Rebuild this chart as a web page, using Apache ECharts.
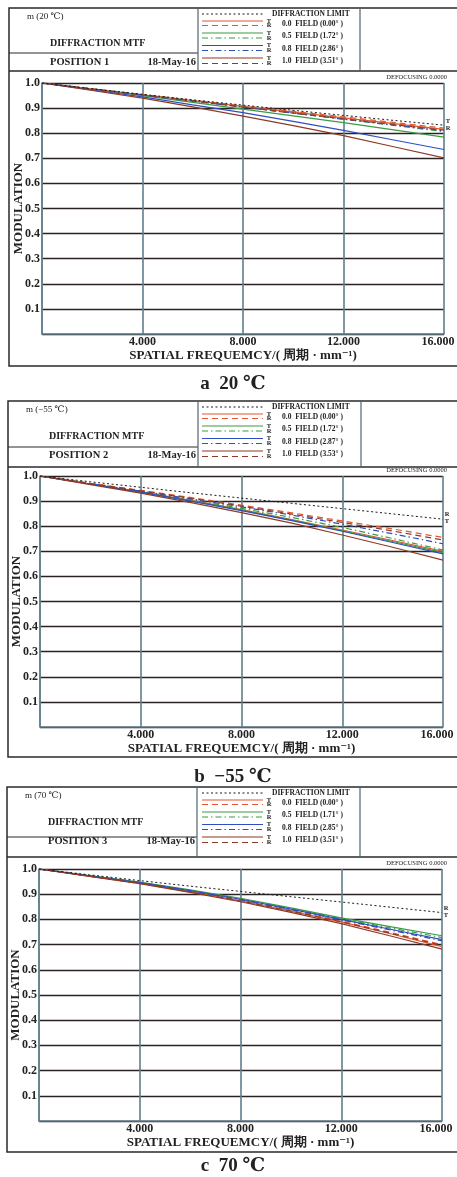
<!DOCTYPE html>
<html><head><meta charset="utf-8">
<script src="https://cdn.jsdelivr.net/npm/echarts@6/dist/echarts.min.js"></script>
<style>html,body{margin:0;padding:0;background:#fff}#c{width:457px;height:1177px}</style>
</head><body><div id="c"></div><script>
// ---------- DATA ----------
const freq = [0, 2, 4, 6, 8, 10, 12, 14, 16];
const yTickLabels = ['0.1','0.2','0.3','0.4','0.5','0.6','0.7','0.8','0.9','1.0'];
const xTickLabels = ['4.000','8.000','12.000','16.000'];

// a: 20 ℃
const t20_diff = [1, 0.977, 0.955, 0.933, 0.912, 0.891, 0.871, 0.851, 0.832];
const t20_f00T = [1, 0.976, 0.953, 0.930, 0.907, 0.884, 0.861, 0.838, 0.815];
const t20_f00R = [1, 0.977, 0.954, 0.931, 0.909, 0.887, 0.865, 0.843, 0.820];
const t20_f05T = [1, 0.975, 0.950, 0.923, 0.896, 0.869, 0.842, 0.813, 0.784];
const t20_f05R = [1, 0.976, 0.953, 0.929, 0.905, 0.881, 0.856, 0.831, 0.806];
const t20_f08T = [1, 0.972, 0.945, 0.913, 0.882, 0.847, 0.811, 0.773, 0.735];
const t20_f08R = [1, 0.976, 0.952, 0.928, 0.904, 0.880, 0.856, 0.833, 0.810];
const t20_f10T = [1, 0.970, 0.940, 0.905, 0.868, 0.830, 0.790, 0.746, 0.702];
const t20_f10R = [1, 0.976, 0.952, 0.928, 0.904, 0.880, 0.857, 0.834, 0.812];

// b: -55 ℃
const tm55_diff = [1, 0.977, 0.955, 0.933, 0.912, 0.891, 0.870, 0.849, 0.828];
const tm55_f00T = [1, 0.968, 0.937, 0.903, 0.866, 0.826, 0.785, 0.743, 0.700];
const tm55_f00R = [1, 0.971, 0.943, 0.914, 0.884, 0.853, 0.821, 0.789, 0.755];
const tm55_f05T = [1, 0.968, 0.936, 0.901, 0.864, 0.824, 0.782, 0.739, 0.695];
const tm55_f05R = [1, 0.969, 0.938, 0.905, 0.871, 0.835, 0.795, 0.751, 0.705];
const tm55_f08T = [1, 0.968, 0.936, 0.900, 0.862, 0.822, 0.780, 0.735, 0.690];
const tm55_f08R = [1, 0.970, 0.940, 0.909, 0.877, 0.844, 0.808, 0.770, 0.730];
const tm55_f10T = [1, 0.966, 0.932, 0.894, 0.854, 0.812, 0.765, 0.716, 0.665];
const tm55_f10R = [1, 0.970, 0.941, 0.911, 0.880, 0.848, 0.815, 0.781, 0.745];

// c: 70 ℃
const t70_diff = [1, 0.977, 0.954, 0.932, 0.911, 0.890, 0.869, 0.848, 0.827];
const t70_f00T = [1, 0.972, 0.944, 0.910, 0.874, 0.833, 0.790, 0.742, 0.692];
const t70_f00R = [1, 0.972, 0.944, 0.910, 0.875, 0.835, 0.793, 0.747, 0.700];
const t70_f05T = [1, 0.974, 0.948, 0.917, 0.884, 0.846, 0.806, 0.770, 0.735];
const t70_f05R = [1, 0.974, 0.947, 0.915, 0.881, 0.843, 0.803, 0.765, 0.728];
const t70_f08T = [1, 0.973, 0.946, 0.914, 0.880, 0.841, 0.800, 0.760, 0.720];
const t70_f08R = [1, 0.973, 0.946, 0.913, 0.878, 0.839, 0.798, 0.757, 0.715];
const t70_f10T = [1, 0.971, 0.942, 0.907, 0.870, 0.828, 0.783, 0.733, 0.682];
const t70_f10R = [1, 0.972, 0.943, 0.909, 0.873, 0.833, 0.790, 0.744, 0.697];

const headerTitles = ['m (20 ℃)', 'm (−55 ℃)', 'm (70 ℃)'];
const positions = ['POSITION 1', 'POSITION 2', 'POSITION 3'];
const dates = ['18-May-16', '18-May-16', '18-May-16'];
const fieldNames = ['0.0', '0.5', '0.8', '1.0'];
const angles20 = ['0.00', '1.72', '2.86', '3.51'];
const anglesM55 = ['0.00', '1.72', '2.87', '3.53'];
const angles70 = ['0.00', '1.71', '2.85', '3.51'];
const captions = ['a  20 ℃', 'b  −55 ℃', 'c  70 ℃'];
const endLetters = [['T', 'R'], ['R', 'T'], ['R', 'T']];

// ---------- BUILD ----------
const panelData = [
  [t20_diff, t20_f00T, t20_f00R, t20_f05T, t20_f05R, t20_f08T, t20_f08R, t20_f10T, t20_f10R],
  [tm55_diff, tm55_f00T, tm55_f00R, tm55_f05T, tm55_f05R, tm55_f08T, tm55_f08R, tm55_f10T, tm55_f10R],
  [t70_diff, t70_f00T, t70_f00R, t70_f05T, t70_f05R, t70_f08T, t70_f08R, t70_f10T, t70_f10R]
];
const panelAngles = [angles20, anglesM55, angles70];

const curveStyles = [
  {color: '#1a1a1a', type: [2, 2.5], width: 1},
  {color: '#e4572e', type: 'solid', width: 1.2},
  {color: '#e4572e', type: [6, 4], width: 1.2},
  {color: '#3c9a45', type: 'solid', width: 1.2},
  {color: '#3c9a45', type: [6, 3, 1.5, 3], width: 1.2},
  {color: '#2f4fbf', type: 'solid', width: 1.2},
  {color: '#2f4fbf', type: [6, 3, 1.5, 3], width: 1.2},
  {color: '#8e3b26', type: 'solid', width: 1.2},
  {color: '#8e3b26', type: [6, 4], width: 1.2}
];

const layout = [
  {bx: 9, btop: 8, binner: 53, bhead: 71, bbot: 366, gl: 42, gt: 83, gw: 402, gh: 251, cap: 384, div1: 198, div2: 360},
  {bx: 8, btop: 401, binner: 447, bhead: 467, bbot: 757, gl: 40, gt: 476, gw: 403, gh: 251, cap: 777, div1: 198, div2: 361},
  {bx: 7, btop: 787, binner: 837, bhead: 857, bbot: 1152, gl: 39, gt: 869, gw: 403, gh: 252, cap: 1166, div1: 197, div2: 360}
];

const SERIF = '"Liberation Serif", "DejaVu Serif", serif';
const grids = [], xAxes = [], yAxes = [], series = [], graphics = [];

layout.forEach((L, p) => {
  grids.push({left: L.gl, top: L.gt, width: L.gw, height: L.gh, containLabel: false, outerBoundsMode: 'none'});
  xAxes.push({
    type: 'value', gridIndex: p, min: 0, max: 16, interval: 4,
    axisLine: {show: true, lineStyle: {color: '#5f7f8c', width: 1.5}},
    axisTick: {show: false},
    splitLine: {show: true, lineStyle: {color: '#5f7f8c', width: 1.6}},
    axisLabel: {
      margin: 2, color: '#222', fontFamily: SERIF, fontWeight: 'bold', fontSize: 12,
      formatter: v => {
        const i = [4, 8, 12, 16].indexOf(v);
        if (i < 0) return '';
        return v === 16 ? '{m|' + xTickLabels[i] + '}' : xTickLabels[i];
      },
      rich: {m: {fontFamily: SERIF, fontWeight: 'bold', fontSize: 12, color: '#222', padding: [0, 12, 0, 0]}}
    },
    name: 'SPATIAL FREQUEMCY/( 周期 · mm⁻¹)', nameLocation: 'middle', nameGap: 15, nameMoveOverlap: false,
    nameTextStyle: {fontFamily: SERIF, fontWeight: 'bold', fontSize: 13, color: '#222'}
  });
  yAxes.push({
    type: 'value', gridIndex: p, min: 0, max: 1, interval: 0.1,
    axisLine: {show: true, lineStyle: {color: '#5f7f8c', width: 1.5}},
    axisTick: {show: false},
    splitLine: {show: true, lineStyle: {color: '#2a2222', width: 1.4}},
    axisLabel: {
      margin: 2, color: '#222', fontFamily: SERIF, fontWeight: 'bold', fontSize: 12,
      formatter: v => { const i = Math.round(v * 10) - 1; return i >= 0 ? yTickLabels[i] : ''; }
    },
    name: 'MODULATION', nameLocation: 'middle', nameGap: 17, nameRotate: 90, nameMoveOverlap: false,
    nameTextStyle: {fontFamily: SERIF, fontWeight: 'bold', fontSize: 13, color: '#222'}
  });
  panelData[p].forEach((vals, k) => {
    const st = curveStyles[k];
    series.push({
      type: 'line', xAxisIndex: p, yAxisIndex: p, symbol: 'none', silent: true,
      data: freq.map((f, i) => [f, vals[i]]),
      lineStyle: {color: st.color, type: st.type, width: st.width},
      z: k === 0 ? 3 : 2
    });
  });

  // Outer box + header
  const bw = 470;
  graphics.push({type: 'rect', shape: {x: L.bx, y: L.btop, width: bw, height: L.bbot - L.btop},
    style: {fill: 'none', stroke: '#2a2a2a', lineWidth: 1.5}, silent: true});
  graphics.push({type: 'line', shape: {x1: L.bx, y1: L.bhead, x2: 457, y2: L.bhead},
    style: {stroke: '#2a2a2a', lineWidth: 1.5}, silent: true});
  graphics.push({type: 'line', shape: {x1: L.bx, y1: L.binner, x2: L.div1, y2: L.binner},
    style: {stroke: '#2a2a2a', lineWidth: 1.2}, silent: true});
  graphics.push({type: 'line', shape: {x1: L.div1, y1: L.btop, x2: L.div1, y2: L.bhead},
    style: {stroke: '#4d6470', lineWidth: 1.2}, silent: true});
  graphics.push({type: 'line', shape: {x1: L.div2, y1: L.btop, x2: L.div2, y2: L.bhead},
    style: {stroke: '#4d6470', lineWidth: 1.2}, silent: true});
  const txt = (x, y, text, font, align, extra) => graphics.push(Object.assign({type: 'text', silent: true,
    style: {x, y, text, font, fill: '#222', textAlign: align || 'left', textVerticalAlign: 'middle'}}, extra || {}));
  txt(L.bx + 18, L.btop + 9, headerTitles[p], '9px ' + SERIF);
  txt(L.bx + 41, L.btop + 35, 'DIFFRACTION MTF', 'bold 10px ' + SERIF);
  txt(L.bx + 41, L.btop + 54, positions[p], 'bold 10.5px ' + SERIF);
  txt(L.div1 - 2, L.btop + 54, dates[p], 'bold 10.5px ' + SERIF, 'right');

  // legend swatches
  const lineOffs = [6, 13, 17.5, 25, 30, 37.5, 42.5, 50, 55.5];
  lineOffs.forEach((off, k) => {
    const st = curveStyles[k];
    graphics.push({type: 'line', silent: true, shape: {x1: 202, y1: L.btop + off, x2: 263, y2: L.btop + off},
      style: {stroke: st.color, lineWidth: 1.2, lineDash: st.type === 'solid' ? null : st.type}});
    if (k > 0) txt(269, L.btop + off, k % 2 === 1 ? 'T' : 'R', 'bold 6.5px ' + SERIF, 'center');
  });
  txt(272, L.btop + 6, 'DIFFRACTION LIMIT', 'bold 7.5px ' + SERIF);
  const textOffs = [16, 28, 41, 53];
  fieldNames.forEach((fn, i) => {
    txt(282, L.btop + textOffs[i], fn + '  FIELD (' + panelAngles[p][i] + '° )', 'bold 7.5px ' + SERIF);
  });
  txt(447, L.gt - 6, 'DEFOCUSING 0.0000', '6.5px ' + SERIF, 'right');
  // end letters
  txt(L.gl + L.gw + 4, L.gt + L.gh * (1 - 0.83) - 4, endLetters[p][0], 'bold 6.5px ' + SERIF, 'center');
  txt(L.gl + L.gw + 4, L.gt + L.gh * (1 - 0.83) + 3, endLetters[p][1], 'bold 6.5px ' + SERIF, 'center');
  // caption
  txt(233, L.cap, captions[p], 'bold 19px ' + SERIF, 'center');
});

const chart = echarts.init(document.getElementById('c'), null, {renderer: 'canvas'});
chart.setOption({
  animation: false,
  backgroundColor: '#fff',
  grid: grids, xAxis: xAxes, yAxis: yAxes, series: series, graphic: graphics
});
</script></body></html>
